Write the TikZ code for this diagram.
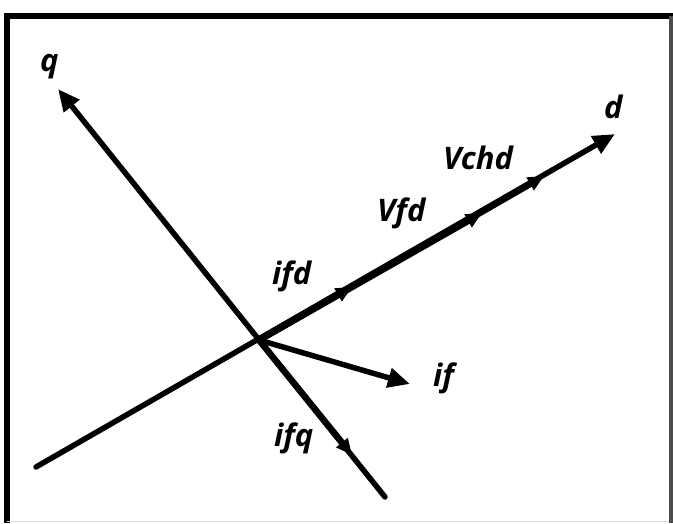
\documentclass[tikz,border=0pt]{standalone}
\usepackage{fontspec}
\setmainfont{Open Sans}
\usetikzlibrary{arrows.meta}
\begin{document}
\begin{tikzpicture}[x=1pt,y=-1pt,
  axis/.style={line width=5.5pt,line cap=round,-{Triangle[length=22pt,width=19pt]}},
  vec/.style={line width=6.5pt,-{Triangle[length=16pt,width=14pt]}},
  lbl/.style={anchor=base west,inner sep=0pt,font=\fontsize{31}{33}\selectfont\bfseries\itshape}]
\useasboundingbox (0,0) rectangle (673,523);
\fill[white] (0,0) rectangle (673,523);
% frame
\draw[line width=6pt,black] (7,523) -- (7,16) -- (673,16);
\draw[line width=4pt,black!70] (671,16) -- (671,523);
\draw[line width=1pt,black!15] (7,521.5) -- (669,521.5);
% points
\coordinate (O) at (259,340);
\coordinate (dstart) at (36,467);
\coordinate (dtip) at (615,134);
\coordinate (qstart) at (385,497);
\coordinate (qtip) at (58,89);
\coordinate (iftip) at (410,384);
\coordinate (ifqtip) at (352,455);
\coordinate (ifdtip) at (352,287);
\coordinate (vfdtip) at (482,213);
\coordinate (vchdtip) at (544,176);
% axes
\draw[axis] (dstart) -- (dtip);
\draw[axis] (qstart) -- (qtip);
% vectors
\draw[vec] (O) -- (vchdtip);
\draw[vec] (O) -- (vfdtip);
\draw[vec] (O) -- (ifdtip);
\draw[vec] (O) -- (ifqtip);
\draw[line width=5.5pt,-{Triangle[length=22pt,width=19pt]}] (O) -- (iftip);
% labels
\node[lbl] (lq) at (40,71) {q};
\node[lbl] (ld) at (604,118) {d};
\node[lbl] (lvchd) at (443,169) {Vchd};
\node[lbl] (lvfd) at (377,221) {Vfd};
\node[lbl] (lifd) at (272,284) {ifd};
\node[lbl] (lif) at (433,386) {if};
\node[lbl] (lifq) at (274,446) {ifq};
\end{tikzpicture}
\end{document}
